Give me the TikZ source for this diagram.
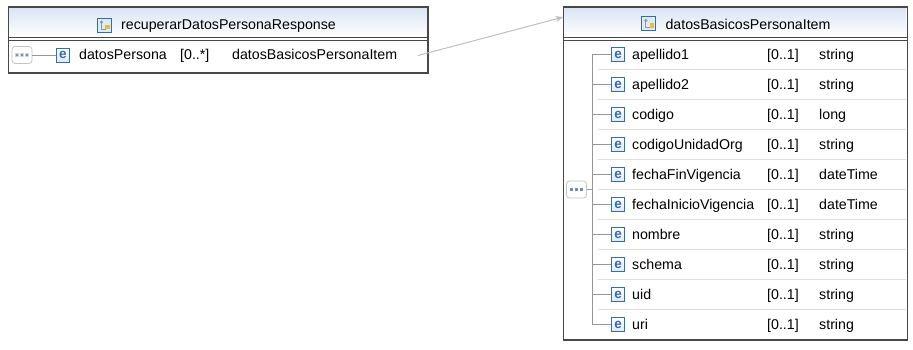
\documentclass[tikz,border=0pt]{standalone}
\usepackage{fontspec}
\setmainfont{Liberation Sans}
\usepackage{xcolor}
\usetikzlibrary{arrows.meta,positioning}
\definecolor{rama}{RGB}{72,72,72}
\definecolor{shapka}{RGB}{218,229,244}
\definecolor{esin}{RGB}{50,108,180}
\definecolor{efon}{RGB}{222,234,248}
\definecolor{seqgray}{RGB}{195,195,195}
\definecolor{seqdot}{RGB}{118,134,168}
\definecolor{liniya}{RGB}{150,150,150}
\definecolor{razdel}{RGB}{222,222,222}
\definecolor{svyaz}{RGB}{190,190,190}
\definecolor{zhelt}{RGB}{232,190,60}
\tikzset{
 box/.style={draw=rama, line width=1.6pt, anchor=north west, inner sep=0pt, outer sep=0pt},
 txt/.style={anchor=base west, inner sep=0pt},
 tree/.style={liniya, line width=0.8pt},
 elem/.style={draw=esin, line width=0.9pt, top color=white, bottom color=efon, text=esin,
  font=\fontsize{13.5}{13.5}\selectfont\bfseries, minimum width=13pt, minimum height=14pt, inner sep=0pt},
 seqicon/.style={draw=seqgray, line width=0.8pt, rounded corners=3pt, fill=white,
  minimum width=20pt, minimum height=17pt, inner sep=0pt,
  path picture={\foreach \dx in {-5,0,5}
   \fill[seqdot] ([xshift=\dx pt]path picture bounding box.center) +(-1.3,-1.3) rectangle +(1.3,1.3);}},
 cticon/.style={draw=esin, line width=0.9pt, fill=efon, minimum size=14pt, inner sep=0pt,
  path picture={
   \draw[liniya, line width=0.9pt] ([shift={(-3,-3.5)}]path picture bounding box.center) -- ++(0,7) -- ++(4,0);
   \fill[liniya] ([shift={(-3,-3.5)}]path picture bounding box.center) circle (1.7);
   \fill[zhelt] ([shift={(3,1.5)}]path picture bounding box.center) +(-2.2,-2.2) rectangle +(2.2,2.2);}},
 link/.style={svyaz, line width=1pt, -{Stealth[length=8pt,width=6pt]}}
}
\begin{document}
\begin{tikzpicture}[x=1pt, y=-1pt, font=\fontsize{14.2}{17}\selectfont]
\useasboundingbox (0,0) rectangle (913,349);
% шапки
\fill[top color=shapka, bottom color=white] (9,8) rectangle (427,37);
\fill[top color=shapka, bottom color=white] (564,8) rectangle (906,36);
% рамки
\node[box, minimum width=419.5pt, minimum height=66pt] (boxL) at (8.5,7) {};
\node[box, minimum width=344pt, minimum height=333pt] (boxR) at (563.5,7) {};
\draw[rama, line width=1.2pt] ([yshift=-30.5pt]boxL.north west) -- ([yshift=-30.5pt]boxL.north east);
\draw[rama, line width=1.2pt] ([yshift=-33.5pt]boxL.north west) -- ([yshift=-33.5pt]boxL.north east);
\draw[rama, line width=1.2pt] ([yshift=-30.5pt]boxR.north west) -- ([yshift=-30.5pt]boxR.north east);
\draw[rama, line width=1.2pt] ([yshift=-33.5pt]boxR.north west) -- ([yshift=-33.5pt]boxR.north east);
% заголовки
\node[anchor=base, inner sep=0pt] (hdrL) at (228.5,29) {recuperarDatosPersonaResponse};
\node[cticon, left=9pt of hdrL] (icoL) {};
\node[anchor=base, inner sep=0pt] (hdrR) at (748,29) {datosBasicosPersonaItem};
\node[cticon, left=9pt of hdrR] (icoR) {};
% левый элемент
\node[seqicon] (seqL) at (22,55) {};
\node[elem] (eL) at (63,55) {e};
\draw[tree] (seqL.east) -- (eL.west);
\node[txt] (nL) at (79,59.5) {datosPersona};
\node[txt] (mL) at (180,59.5) {[0..*]};
\node[txt] (tL) at (232,59.5) {datosBasicosPersonaItem};
% связь
\coordinate (linkfrom) at (418,55.5);
\draw[link] (linkfrom) -- ([yshift=-10pt]boxR.north west);
% разделители
\foreach \i in {1,...,9}
 \draw[razdel, line width=1pt] (598,39.5+30*\i) -- (906,39.5+30*\i);
% правые элементы
\node[seqicon] (seqR) at (576.5,189.5) {};
\coordinate (trunk) at (592,0);
\foreach \nm/\tp [count=\i] in {apellido1/string, apellido2/string, codigo/long,
  codigoUnidadOrg/string, fechaFinVigencia/dateTime, fechaInicioVigencia/dateTime,
  nombre/string, schema/string, uid/string, uri/string} {
 \node[elem] (e\i) at (618,24.5+30*\i) {e};
 \node[txt] (n\i) at (632,29+30*\i) {\nm};
 \node[txt] (m\i) at (767,29+30*\i) {[0..1]};
 \node[txt] (t\i) at (819,29+30*\i) {\tp};
 \draw[tree] (trunk |- e\i.west) -- (e\i.west);
}
\draw[tree] (trunk |- e1.west) -- (trunk |- e10.west);
\draw[tree] (seqR.east) -- (trunk |- seqR.east);
\end{tikzpicture}
\end{document}
